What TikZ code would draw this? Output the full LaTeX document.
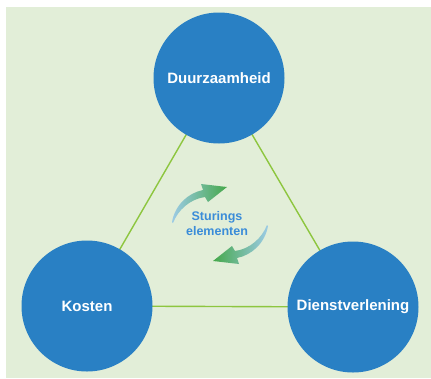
\documentclass[tikz,border=0pt]{standalone}
\usepackage{fontspec}
\setmainfont{Liberation Sans}
\definecolor{bgc}{HTML}{E2EED8}
\definecolor{circc}{HTML}{2980C4}
\definecolor{linec}{HTML}{8DC63F}
\definecolor{txtc}{HTML}{3A8CD8}
\definecolor{arrg}{HTML}{45A84A}
\definecolor{arrb}{HTML}{9CCBE6}
\tikzset{
  pillar/.style={circle, fill=circc, minimum size=131pt, inner sep=0pt,
    text=white, font=\fontsize{15}{18}\selectfont\bfseries},
  link/.style={draw=linec, line width=1.4pt},
  centertext/.style={text=txtc, align=center, font=\fontsize{12.5}{15}\selectfont\bfseries}
}
\begin{document}
\begin{tikzpicture}[x=1pt,y=-1pt]
\useasboundingbox (0,0) rectangle (431,378);
\fill[white] (0,0) rectangle (431,378);
\fill[bgc] (6,7) rectangle (431,378);
% node positions
\coordinate (pd) at (219,78);
\coordinate (pk) at (87,306);
\coordinate (pv) at (353,307);
\draw[link] (pd) -- (pk) -- (pv) -- cycle;
\node[pillar] (d) at (pd) {Duurzaamheid};
\node[pillar] (k) at (pk) {Kosten};
\node[pillar] (v) at (pv) {Dienstverlening};
\node[centertext] (s) at (217,224) {Sturings\\elementen};
% upper arrow
\shade[left color=arrb, right color=arrg]
  (172,222) .. controls (175,205) and (188,193) .. (203,190)
  -- (201,184) -- (227,187) -- (208,202) -- (205,197)
  .. controls (190,199) and (178,210) .. (173,223) -- cycle;
% lower arrow (rotated 180 about (220,224))
\shade[left color=arrg, right color=arrb]
  (268,226) .. controls (265,243) and (252,255) .. (237,258)
  -- (239,264) -- (213,261) -- (232,246) -- (235,251)
  .. controls (250,249) and (262,238) .. (267,225) -- cycle;
\end{tikzpicture}
\end{document}
